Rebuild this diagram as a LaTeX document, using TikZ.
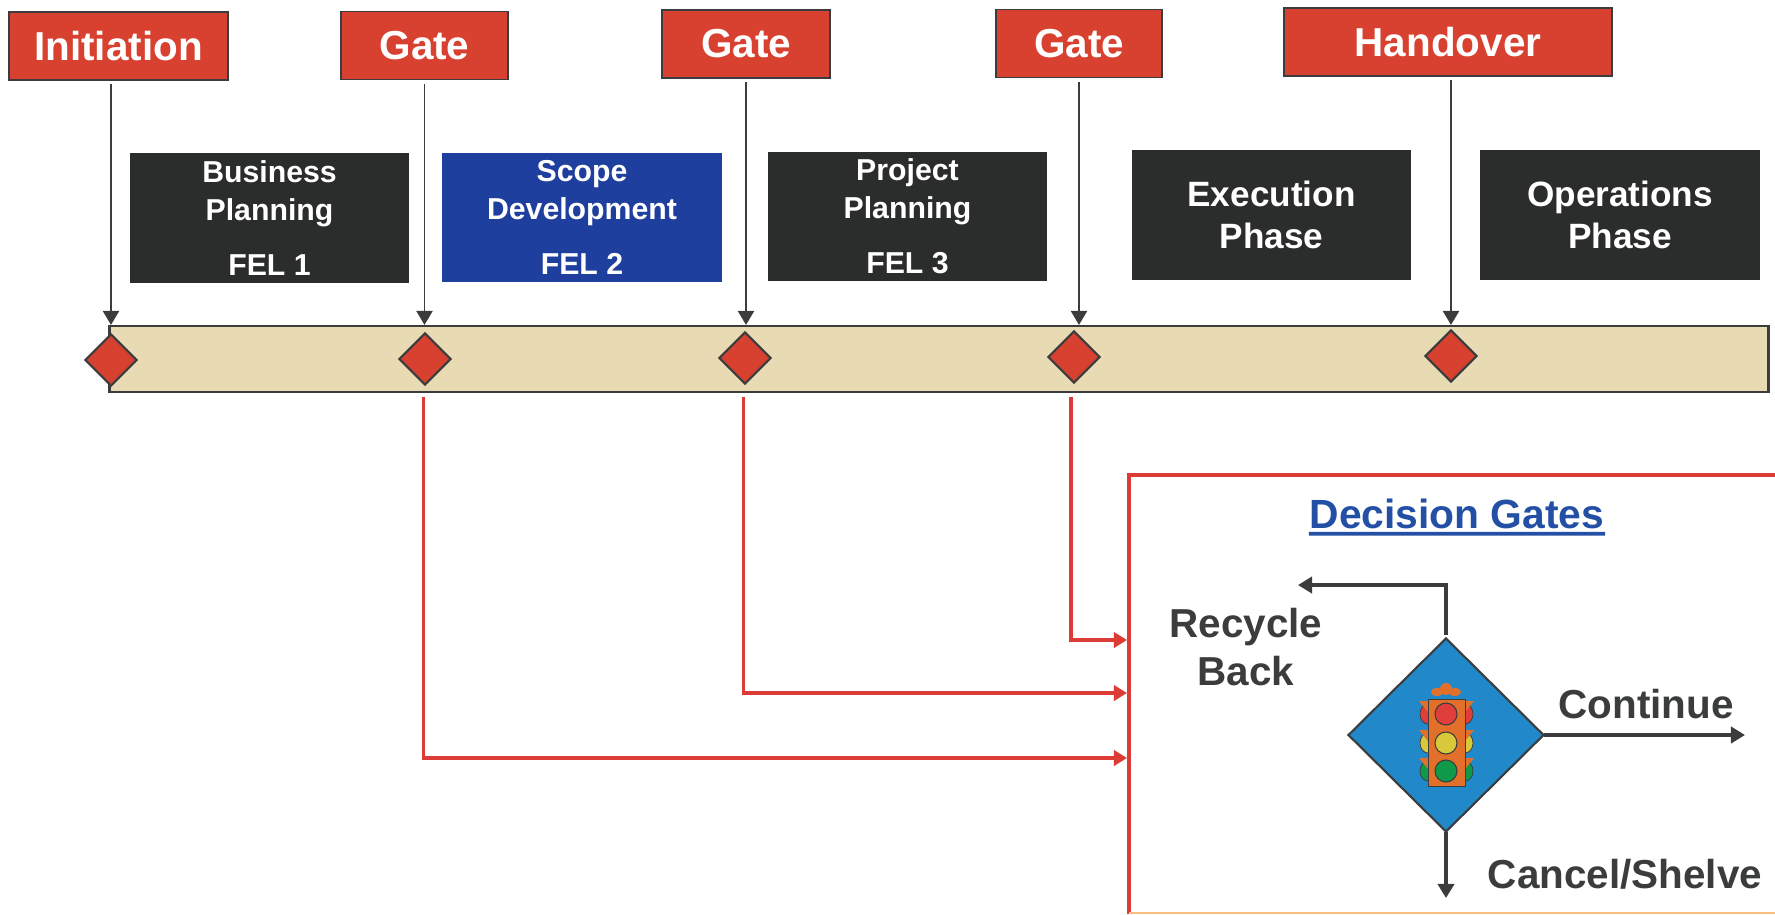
\documentclass[tikz,border=0pt]{standalone}
\usepackage{fontspec}
\setmainfont{Liberation Sans}
\usetikzlibrary{arrows.meta,shapes.geometric}
\definecolor{gatered}{HTML}{D8412F}
\definecolor{boxblack}{HTML}{2B2D2C}
\definecolor{boxblue}{HTML}{1F3F9E}
\definecolor{bartan}{HTML}{E8DAB2}
\definecolor{linered}{HTML}{DC3B36}
\definecolor{darkgrey}{HTML}{3A3C3E}
\definecolor{headingblue}{HTML}{2350A5}
\definecolor{skyblue}{HTML}{2189C9}
\definecolor{housing}{HTML}{E2702B}
\definecolor{lampred}{HTML}{E03E3A}
\definecolor{lampyellow}{HTML}{D8C83A}
\definecolor{lampgreen}{HTML}{0F9A4A}
\begin{document}
\begin{tikzpicture}[x=.01cm,y=-.01cm,
    gatebox/.style={draw=darkgrey,line width=.5pt,fill=gatered,text=white,inner sep=0pt,minimum height=.68cm,font=\fontsize{11.5}{13}\selectfont\bfseries},
    phasebox/.style={fill=#1,text=white,inner sep=0pt,minimum width=2.79cm,minimum height=1.29cm,align=center,font=\fontsize{8.6}{10.8}\selectfont\bfseries},
    bigphase/.style={phasebox=boxblack,font=\fontsize{10}{12}\selectfont\bfseries},
    marker/.style={diamond,draw=darkgrey,line width=.6pt,fill=gatered,inner sep=0pt,minimum width=.52cm,minimum height=.52cm},
    gatearrow/.style={-{Triangle[length=4pt,width=4.6pt]},darkgrey,line width=.55pt,shorten <=1pt},
    redarrow/.style={-{Triangle[length=3.7pt,width=4.3pt]},linered,line width=.95pt,shorten <=1pt},
    flowarrow/.style={-{Triangle[length=4pt,width=4.6pt]},darkgrey,line width=1.1pt},
    flowtext/.style={text=darkgrey,inner sep=0pt,align=center,font=\fontsize{11.5}{13.4}\selectfont\bfseries}]

    \useasboundingbox (0,0) rectangle (1775,914);

    %gate labels:
    \node[gatebox,minimum width=2.19cm] (initiation) at (118.5,46) {Initiation};
    \node[gatebox,minimum width=1.67cm] (gateA) at (424.5,45.5) {Gate};
    \node[gatebox,minimum width=1.68cm] (gateB) at (746,44) {Gate};
    \node[gatebox,minimum width=1.66cm] (gateC) at (1079,43.5) {Gate};
    \node[gatebox,minimum width=3.28cm] (handover) at (1448,42) {Handover};

    %phases:
    \node[phasebox=boxblack] (business) at (269.5,218) {Business\\Planning\\[4.8pt]FEL 1};
    \node[phasebox=boxblue] (scope) at (582,217.5) {Scope\\Development\\[4.8pt]FEL 2};
    \node[phasebox=boxblack] (project) at (907.5,216.5) {Project\\Planning\\[4.8pt]FEL 3};
    \node[bigphase] (execution) at (1271.5,215) {Execution\\Phase};
    \node[bigphase,minimum width=2.8cm] (operations) at (1620,215) {Operations\\Phase};

    %timeline:
    \node[draw=darkgrey,line width=.6pt,fill=bartan,inner sep=0pt,minimum width=16.58cm,minimum height=.66cm] (bar) at (939,359) {};
    \node[marker] (markerA) at (111,360) {};
    \node[marker] (markerB) at (425,359) {};
    \node[marker] (markerC) at (745,358) {};
    \node[marker] (markerD) at (1074,357) {};
    \node[marker] (markerE) at (1451,356) {};

    \draw[gatearrow] (initiation.south -| markerA) -- (bar.north -| markerA);
    \draw[gatearrow] (gateA.south) -- (gateA.south |- bar.north);
    \draw[gatearrow] (gateB.south) -- (gateB.south |- bar.north);
    \draw[gatearrow] (gateC.south) -- (gateC.south |- bar.north);
    \draw[gatearrow] (handover.south -| markerE) -- (bar.north -| markerE);

    %decision box:
    \coordinate (corner) at (1129,475);
    \coordinate (inA) at (1127,758);
    \coordinate (inB) at (1127,693);
    \coordinate (inC) at (1127,640);
    \draw[linered,line width=1.1pt] (1775,475) -- (corner) -- (1129,914);
    \draw[orange!50,line width=.4pt] (1129,913) -- (1775,913);
    \node[text=headingblue,inner sep=0pt,font=\fontsize{11.6}{14}\selectfont\bfseries] (heading) at (1457,514) {Decision Gates};
    \draw[headingblue,line width=1.1pt] (heading.south west) ++(0,4) -- ([yshift=-.04cm]heading.south east);

    \draw[redarrow] ([xshift=-.015cm]bar.south -| markerB) |- (inA);
    \draw[redarrow] ([xshift=-.015cm]bar.south -| markerC) |- (inB);
    \draw[redarrow] ([xshift=-.03cm]bar.south -| markerD) |- (inC);

    %decision diamond:
    \node[diamond,draw=darkgrey,line width=.6pt,fill=skyblue,inner sep=0pt,outer sep=0pt,minimum width=1.95cm,minimum height=1.93cm] (decision) at (1446,735) {};

    %traffic light:
    \foreach \lampy/\lampcolor in {714/lampred,743/lampyellow,771/lampgreen}{
        \filldraw[fill=\lampcolor,draw=darkgrey,line width=.2pt] (1428,\lampy) ellipse (.08cm and .1cm);
        \filldraw[fill=\lampcolor,draw=darkgrey,line width=.2pt] (1465,\lampy) ellipse (.08cm and .1cm);
        \fill[housing] (1419,\lampy-13) -- (1428,\lampy-13) -- (1428,\lampy-2) -- cycle;
        \fill[housing] (1474,\lampy-13) -- (1465,\lampy-13) -- (1465,\lampy-2) -- cycle;
    }
    \fill[housing] (1437,692) ellipse (.06cm and .04cm);
    \fill[housing] (1455,692) ellipse (.06cm and .04cm);
    \fill[housing] (1446,689) circle (.06cm);
    \filldraw[fill=housing,draw=darkgrey,line width=.2pt] (1428,699) rectangle (1465,786);
    \foreach \lampy/\lampcolor in {714/lampred,743/lampyellow,771/lampgreen}
        \filldraw[fill=\lampcolor,draw=darkgrey,line width=.3pt] (1446,\lampy) circle (.11cm);

    %decision outcomes:
    \coordinate (recycleEnd) at (1298,585);
    \draw[flowarrow,shorten <=1pt] (decision.north) |- (recycleEnd);
    \coordinate (continueEnd) at (1745,735);
    \draw[flowarrow] (decision.east) -- (continueEnd);
    \coordinate (cancelEnd) at (1446,898);
    \draw[flowarrow] (decision.south) -- (cancelEnd);

    \node[flowtext] (recycle) at (1246,647) {Recycle\\Back};
    \node[flowtext] (continue) at (1646,704) {Continue};
    \node[flowtext] (cancel) at (1625,874) {Cancel/Shelve};

\end{tikzpicture}
\end{document}
